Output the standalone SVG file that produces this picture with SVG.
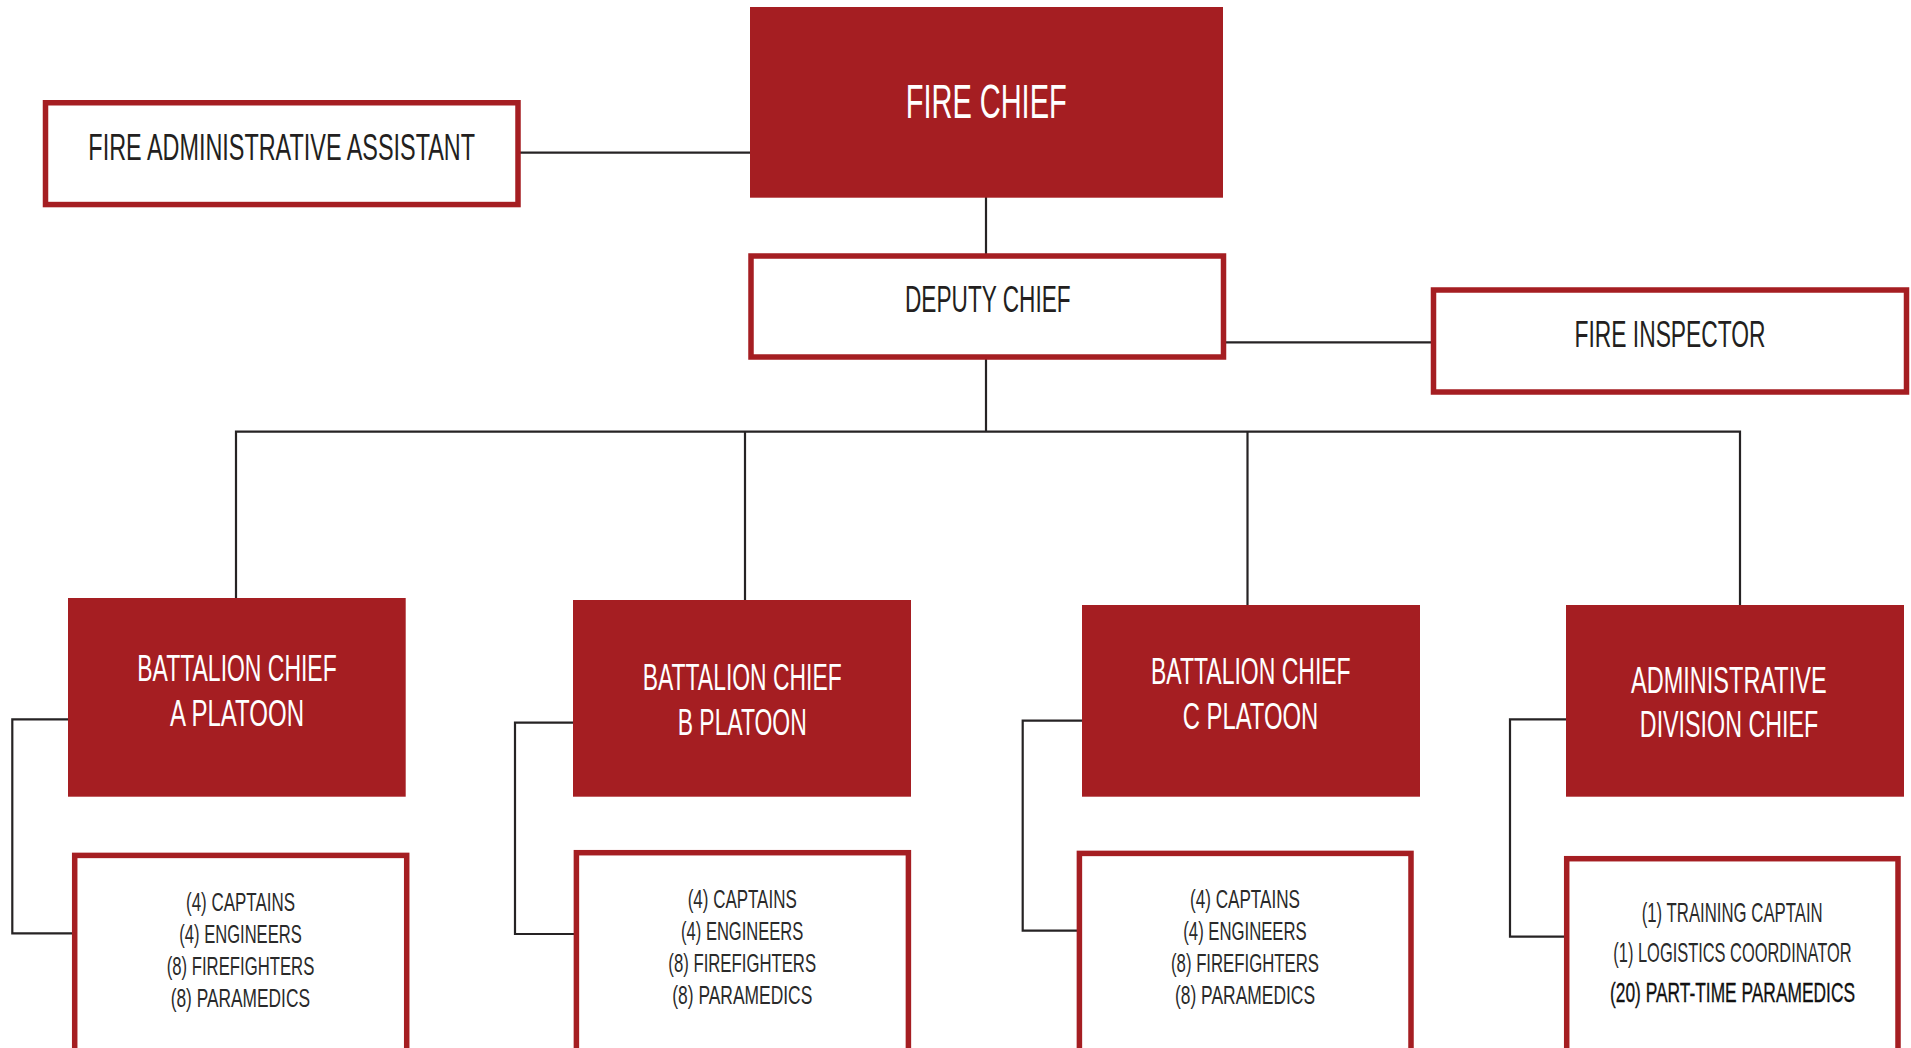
<svg xmlns="http://www.w3.org/2000/svg" width="1911" height="1048" viewBox="0 0 1911 1048">
<style>
.solid{fill:#a51e22}
.outline{fill:#fff;stroke:#a51e22;stroke-width:5.5}
.conn{fill:none;stroke:#262324;stroke-width:2.2}
text{font-family:"Liberation Sans",Arial,sans-serif;text-anchor:middle}
.w{fill:#fff}
.d{fill:#231f20}
.s{fill:#2a2a2a}
.b{fill:#111;stroke:#111;stroke-width:0.35}
</style>
<rect width="1911" height="1048" fill="#fff"/>
<g id="connectors">
<line class="conn" x1="520" y1="152.7" x2="751" y2="152.7"/>
<line class="conn" x1="986" y1="197" x2="986" y2="254"/>
<line class="conn" x1="1226" y1="342.3" x2="1431" y2="342.3"/>
<line class="conn" x1="986" y1="359" x2="986" y2="431.7"/>
<polyline class="conn" points="236,599 236,431.7 1740,431.7 1740,606"/>
<line class="conn" x1="745" y1="431.7" x2="745" y2="601"/>
<line class="conn" x1="1247.5" y1="431.7" x2="1247.5" y2="606"/>
<polyline class="conn" points="69,719.3 12.3,719.3 12.3,933.3 73,933.3"/>
<polyline class="conn" points="574,722.7 515,722.7 515,934 574.5,934"/>
<polyline class="conn" points="1083,720.7 1022.7,720.7 1022.7,930.7 1077.5,930.7"/>
<polyline class="conn" points="1567,719.3 1510,719.3 1510,936.7 1565,936.7"/>
</g>
<g id="fire-chief">
<rect class="solid" x="750" y="7" width="473" height="190.7"/>
<text class="w" transform="translate(986.2 118.3) scale(0.64 1)" font-size="47.5" textLength="251.6" lengthAdjust="spacingAndGlyphs">FIRE CHIEF</text>
</g>
<g id="fire-admin-assistant">
<rect class="outline" x="45.5" y="102.75" width="472.5" height="101.8"/>
<text class="d" transform="translate(281.7 160) scale(0.64 1)" font-size="36" textLength="604.2" lengthAdjust="spacingAndGlyphs">FIRE ADMINISTRATIVE ASSISTANT</text>
</g>
<g id="deputy-chief">
<rect class="outline" x="751" y="256" width="472.5" height="101"/>
<text class="d" transform="translate(987.8 312.3) scale(0.64 1)" font-size="36" textLength="258.9" lengthAdjust="spacingAndGlyphs">DEPUTY CHIEF</text>
</g>
<g id="fire-inspector">
<rect class="outline" x="1433.5" y="290" width="473" height="102"/>
<text class="d" transform="translate(1670 347.3) scale(0.64 1)" font-size="36.5" textLength="298.4" lengthAdjust="spacingAndGlyphs">FIRE INSPECTOR</text>
</g>
<g id="battalion-a">
<rect class="solid" x="68" y="598" width="337.7" height="198.7"/>
<text class="w" transform="translate(237 680.7) scale(0.64 1)" font-size="36" textLength="311.6" lengthAdjust="spacingAndGlyphs">BATTALION CHIEF</text>
<text class="w" transform="translate(237 725.7) scale(0.64 1)" font-size="37" textLength="209.4" lengthAdjust="spacingAndGlyphs">A  PLATOON</text>
</g>
<g id="battalion-b">
<rect class="solid" x="573" y="600" width="338" height="196.7"/>
<text class="w" transform="translate(742.2 690) scale(0.64 1)" font-size="36" textLength="310.9" lengthAdjust="spacingAndGlyphs">BATTALION CHIEF</text>
<text class="w" transform="translate(742.2 735) scale(0.64 1)" font-size="37" textLength="201.6" lengthAdjust="spacingAndGlyphs">B PLATOON</text>
</g>
<g id="battalion-c">
<rect class="solid" x="1082" y="605" width="338" height="191.7"/>
<text class="w" transform="translate(1250.8 684) scale(0.64 1)" font-size="36" textLength="312" lengthAdjust="spacingAndGlyphs">BATTALION CHIEF</text>
<text class="w" transform="translate(1250.5 729.3) scale(0.64 1)" font-size="37" textLength="211.9" lengthAdjust="spacingAndGlyphs">C  PLATOON</text>
</g>
<g id="admin-division-chief">
<rect class="solid" x="1566" y="605" width="338" height="191.7"/>
<text class="w" transform="translate(1728.8 692.7) scale(0.64 1)" font-size="36" textLength="305.8" lengthAdjust="spacingAndGlyphs">ADMINISTRATIVE</text>
<text class="w" transform="translate(1729 737.3) scale(0.64 1)" font-size="36" textLength="278.6" lengthAdjust="spacingAndGlyphs">DIVISION CHIEF</text>
</g>
<g id="a-platoon-staff">
<rect class="outline" x="74.7" y="855.4" width="332" height="220"/>
<text class="s" transform="translate(240.5 911) scale(0.64 1)" font-size="26.5" textLength="170.3" lengthAdjust="spacingAndGlyphs">(4) CAPTAINS</text>
<text class="s" transform="translate(240.5 942.7) scale(0.64 1)" font-size="26.5" textLength="191.3" lengthAdjust="spacingAndGlyphs">(4) ENGINEERS</text>
<text class="s" transform="translate(240.5 975) scale(0.64 1)" font-size="26.5" textLength="230.6" lengthAdjust="spacingAndGlyphs">(8) FIREFIGHTERS</text>
<text class="s" transform="translate(240.3 1006.7) scale(0.64 1)" font-size="26.5" textLength="217.7" lengthAdjust="spacingAndGlyphs">(8) PARAMEDICS</text>
</g>
<g id="b-platoon-staff">
<rect class="outline" x="576.4" y="852.7" width="332" height="220"/>
<text class="s" transform="translate(742.2 908) scale(0.64 1)" font-size="26.5" textLength="170.3" lengthAdjust="spacingAndGlyphs">(4) CAPTAINS</text>
<text class="s" transform="translate(742.2 940) scale(0.64 1)" font-size="26.5" textLength="191.1" lengthAdjust="spacingAndGlyphs">(4) ENGINEERS</text>
<text class="s" transform="translate(742.2 971.7) scale(0.64 1)" font-size="26.5" textLength="230.8" lengthAdjust="spacingAndGlyphs">(8) FIREFIGHTERS</text>
<text class="s" transform="translate(742.3 1004) scale(0.64 1)" font-size="26.5" textLength="218.8" lengthAdjust="spacingAndGlyphs">(8) PARAMEDICS</text>
</g>
<g id="c-platoon-staff">
<rect class="outline" x="1079.4" y="853.4" width="331.6" height="220"/>
<text class="s" transform="translate(1245 908.3) scale(0.64 1)" font-size="26.5" textLength="171.9" lengthAdjust="spacingAndGlyphs">(4) CAPTAINS</text>
<text class="s" transform="translate(1245 940) scale(0.64 1)" font-size="26.5" textLength="192.8" lengthAdjust="spacingAndGlyphs">(4) ENGINEERS</text>
<text class="s" transform="translate(1245 971.7) scale(0.64 1)" font-size="26.5" textLength="231.3" lengthAdjust="spacingAndGlyphs">(8) FIREFIGHTERS</text>
<text class="s" transform="translate(1245 1004) scale(0.64 1)" font-size="26.5" textLength="218.8" lengthAdjust="spacingAndGlyphs">(8) PARAMEDICS</text>
</g>
<g id="admin-division-staff">
<rect class="outline" x="1566.7" y="858.7" width="331.3" height="220"/>
<text class="s" transform="translate(1732.2 922.3) scale(0.64 1)" font-size="27" textLength="282.8" lengthAdjust="spacingAndGlyphs">(1) TRAINING CAPTAIN</text>
<text class="s" transform="translate(1732.5 961.7) scale(0.64 1)" font-size="27" textLength="372.3" lengthAdjust="spacingAndGlyphs">(1) LOGISTICS COORDINATOR</text>
<text class="b" transform="translate(1732.5 1001.7) scale(0.64 1)" font-size="27" textLength="382.8" lengthAdjust="spacingAndGlyphs">(20) PART-TIME PARAMEDICS</text>
</g>
</svg>
